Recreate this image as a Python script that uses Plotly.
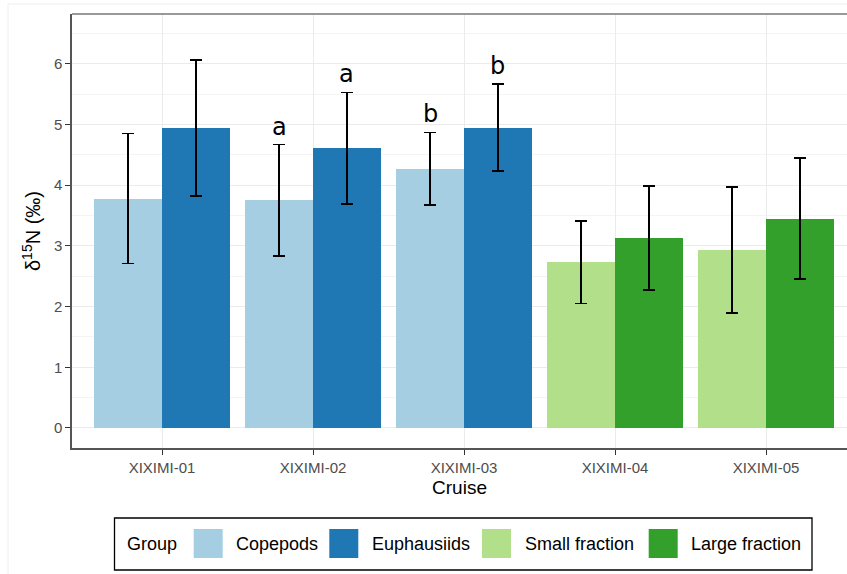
import plotly.graph_objects as go

# ---------------- data ----------------
cruises = ["XIXIMI-01", "XIXIMI-02", "XIXIMI-03", "XIXIMI-04", "XIXIMI-05"]
groups = ["Copepods", "Euphausiids", "Small fraction", "Large fraction"]
colors = ["#A6CEE3", "#1F78B4", "#B2DF8A", "#33A02C"]

copepods_cruise = ["XIXIMI-01", "XIXIMI-02", "XIXIMI-03"]
copepods_mean = [3.78, 3.75, 4.27]
copepods_sd = [1.07, 0.92, 0.60]
copepods_letters = ["", "a", "b"]

euph_cruise = ["XIXIMI-01", "XIXIMI-02", "XIXIMI-03"]
euph_mean = [4.94, 4.61, 4.95]
euph_sd = [1.12, 0.92, 0.72]
euph_letters = ["", "a", "b"]

small_cruise = ["XIXIMI-04", "XIXIMI-05"]
small_mean = [2.73, 2.93]
small_sd = [0.68, 1.04]

large_cruise = ["XIXIMI-04", "XIXIMI-05"]
large_mean = [3.13, 3.45]
large_sd = [0.86, 1.00]

y_ticks = [0, 1, 2, 3, 4, 5, 6]

# ---------------- geometry ----------------
W, H = 847, 574
ML, MR, MT, MB = 72, 0, 14, 126
PW = W - ML - MR
PH = H - MT - MB
BW = 0.45


def px_x(px):
    return (px - ML) / PW


def px_y(py):
    return (H - MB - py) / PH


fig = go.Figure()

series = [
    (groups[0], copepods_cruise, copepods_mean, copepods_sd, colors[0], -BW),
    (groups[1], euph_cruise, euph_mean, euph_sd, colors[1], 0.0),
    (groups[2], small_cruise, small_mean, small_sd, colors[2], -BW),
    (groups[3], large_cruise, large_mean, large_sd, colors[3], 0.0),
]

for name, xs, ys, sds, col, off in series:
    fig.add_trace(go.Bar(
        x=xs, y=ys, name=name, offset=off, width=BW,
        marker=dict(color=col, line=dict(width=0)),
        error_y=dict(type="data", array=sds, visible=True,
                     color="black", thickness=1.6, width=6),
        showlegend=False,
    ))

# significance letters
for xs, ys, sds, letters, off in [
    (copepods_cruise, copepods_mean, copepods_sd, copepods_letters, -BW / 2),
    (euph_cruise, euph_mean, euph_sd, euph_letters, BW / 2),
]:
    for c, m, s, t in zip(xs, ys, sds, letters):
        if not t:
            continue
        fig.add_annotation(
            x=cruises.index(c) + off, y=m + s, xref="x", yref="y",
            text=t, showarrow=False, yanchor="bottom", yshift=2,
            font=dict(family="DejaVu Sans", size=24, color="black"),
        )

# ---------------- manual legend ----------------
legend_font = dict(family="Liberation Sans, Arial", size=18, color="black")
fig.add_shape(type="rect", xref="paper", yref="paper",
              x0=px_x(114.5), x1=px_x(812), y0=px_y(518), y1=px_y(570),
              line=dict(color="black", width=1.3), fillcolor="white")
fig.add_annotation(xref="paper", yref="paper", x=px_x(125), y=px_y(544),
                   text="Group", showarrow=False, xanchor="left",
                   yanchor="middle", font=legend_font)
swatch_left = [193.7, 329.3, 482, 648.7]
for name, col, sx in zip(groups, colors, swatch_left):
    fig.add_shape(type="rect", xref="paper", yref="paper",
                  x0=px_x(sx), x1=px_x(sx + 29), y0=px_y(529), y1=px_y(558),
                  line=dict(width=0), fillcolor=col)
    fig.add_annotation(xref="paper", yref="paper", x=px_x(sx + 40.5),
                       y=px_y(544), text=name, showarrow=False,
                       xanchor="left", yanchor="middle", font=legend_font)

# panel top border (right side is cropped in the reference)
fig.add_shape(type="line", xref="paper", yref="paper",
              x0=0, x1=1, y0=1, y1=1,
              line=dict(color="#777777", width=1.6))

# faint outer frame
fig.add_shape(type="line", xref="paper", yref="paper",
              x0=px_x(8), x1=px_x(8), y0=px_y(4), y1=px_y(H),
              line=dict(color="#EEEEEE", width=1))
fig.add_shape(type="line", xref="paper", yref="paper",
              x0=px_x(8), x1=px_x(W), y0=px_y(4), y1=px_y(4),
              line=dict(color="#EEEEEE", width=1))

x_left = -0.596
x_right = x_left + PW / 151.0

fig.update_layout(
    width=W, height=H,
    margin=dict(l=ML, r=MR, t=MT, b=MB, pad=0),
    paper_bgcolor="white", plot_bgcolor="white",
    barmode="overlay", bargap=0,
    showlegend=False,
    font=dict(family="Liberation Sans, Arial", color="#4D4D4D"),
    xaxis=dict(
        type="category", categoryorder="array", categoryarray=cruises,
        range=[x_left, x_right],
        showgrid=True, gridcolor="#EBEBEB", gridwidth=1.4,
        showline=True, linecolor="#555555", linewidth=1.5, mirror=False,
        ticks="outside", ticklen=5, tickwidth=1.3, tickcolor="#333333",
        tickfont=dict(size=15, color="#4D4D4D"),
        title=dict(text="Cruise", standoff=6,
                   font=dict(size=19, color="black")),
        zeroline=False,
    ),
    yaxis=dict(
        range=[-0.33, 6.82], tickvals=y_ticks,
        showgrid=True, gridcolor="#EBEBEB", gridwidth=1.4,
        minor=dict(dtick=0.5, showgrid=True, gridcolor="#F4F4F4",
                   gridwidth=1),
        showline=True, linecolor="#555555", linewidth=1.5, mirror=False,
        ticks="outside", ticklen=5, tickwidth=1.3, tickcolor="#333333",
        tickfont=dict(size=15, color="#4D4D4D"),
        title=dict(text="δ<sup>15</sup>N (‰)", standoff=8,
                   font=dict(size=20, color="black")),
        zeroline=False,
    ),
)

fig.write_html("out.html")
